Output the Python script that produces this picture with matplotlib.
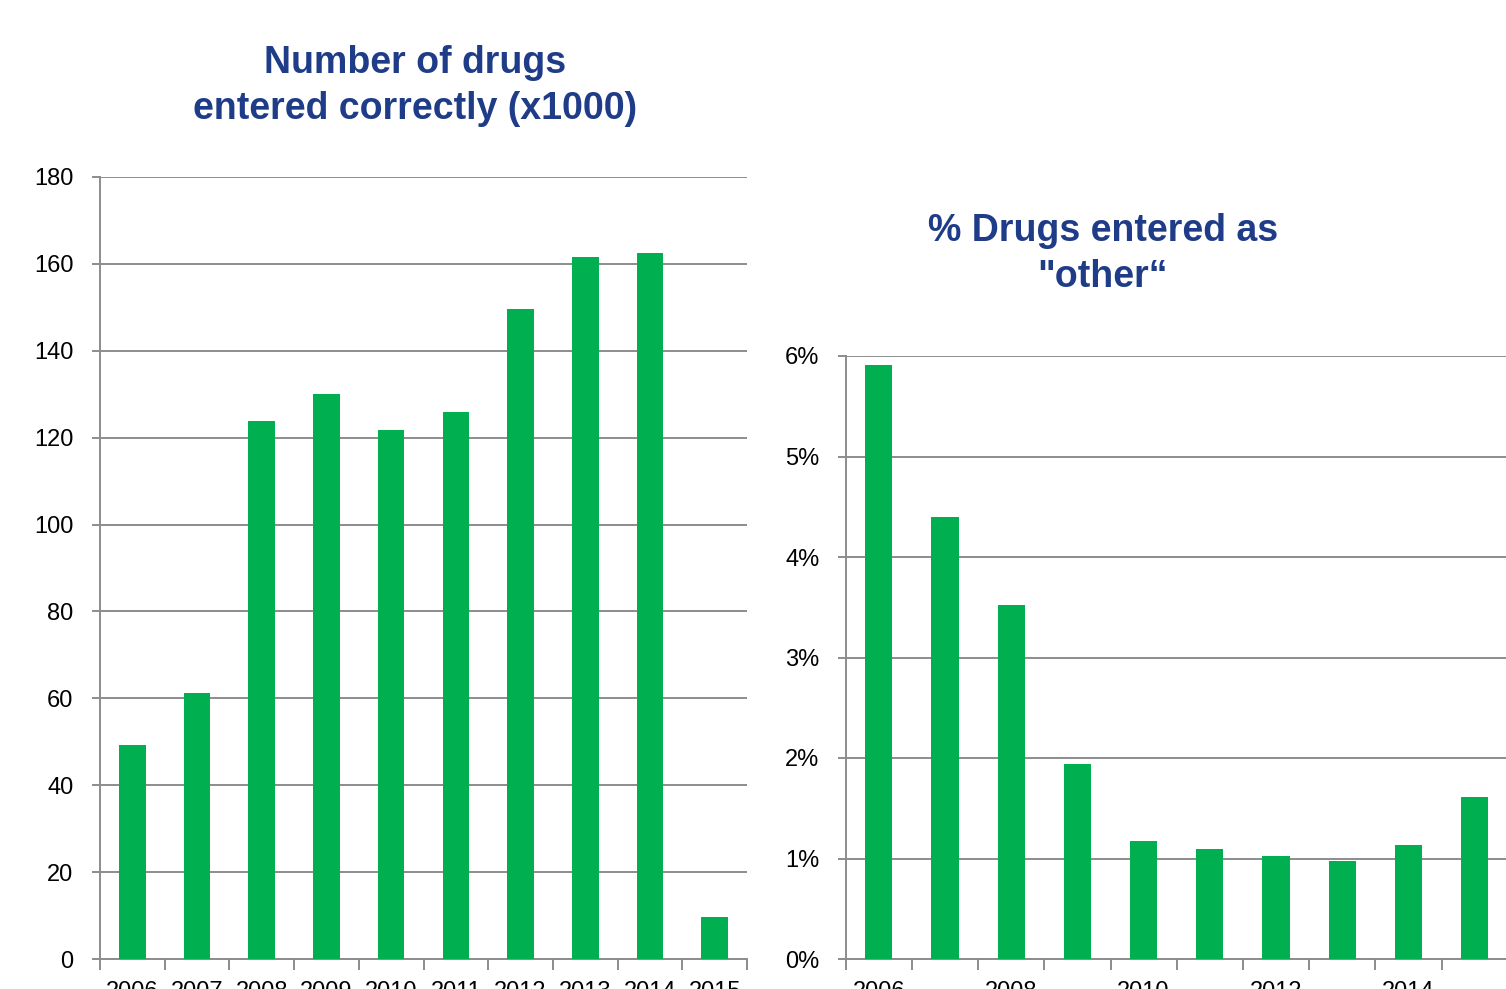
import numpy as np
import matplotlib
matplotlib.use('Agg')
import matplotlib.pyplot as plt
from matplotlib.ticker import FuncFormatter

plt.rcParams['font.family'] = ['Liberation Sans', 'DejaVu Sans']

years = [2006, 2007, 2008, 2009, 2010, 2011, 2012, 2013, 2014, 2015]
drugs_correct = [49.3, 61.2, 123.8, 130.1, 121.8, 125.9, 149.6, 161.6, 162.5, 9.7]
pct_other = [5.91, 4.40, 3.52, 1.94, 1.17, 1.09, 1.02, 0.975, 1.13, 1.61]

green = '#00B050'
title_col = '#1F3C88'
grid_col = '#8C8C8C'

W, H = 1506, 989
fig = plt.figure(figsize=(W / 100, H / 100), dpi=100)


def style_axes(ax, ymax, ystep):
    x = np.arange(len(years))
    ax.set_xlim(-0.5, len(years) - 0.5)
    ax.set_ylim(0, ymax)
    ax.set_yticks(np.arange(0, ymax + ystep / 2, ystep))
    ax.yaxis.grid(True, color=grid_col, lw=1.4)
    ax.set_axisbelow(True)
    for s in ['top', 'right']:
        ax.spines[s].set_visible(False)
    for s in ['left', 'bottom']:
        ax.spines[s].set_color(grid_col)
        ax.spines[s].set_linewidth(1.4)
    ax.set_xticks(x)
    ax.set_xticks(np.arange(len(years) + 1) - 0.5, minor=True)
    ax.tick_params(axis='x', which='major', length=0, pad=16, labelsize=17)
    ax.tick_params(axis='x', which='minor', length=8, width=1.4, color=grid_col)
    ax.tick_params(axis='y', length=6, width=1.4, color=grid_col, pad=13, labelsize=17)


# left chart
ax1 = fig.add_axes([100 / W, 30 / H, 647 / W, 782 / H])
ax1.bar(np.arange(len(years)), drugs_correct, width=0.41, color=green, zorder=3)
style_axes(ax1, 180, 20)
ax1.set_xticklabels([str(y) for y in years])
fig.text(415 / W, 1 - 86 / H, 'Number of drugs\nentered correctly (x1000)',
         ha='center', va='center', fontsize=27, fontweight='bold',
         color=title_col, linespacing=1.38)

# right chart
ax2 = fig.add_axes([845.7 / W, 30 / H, 662 / W, 603 / H])
ax2.bar(np.arange(len(years)), pct_other, width=0.41, color=green, zorder=3)
style_axes(ax2, 6, 1)
ax2.yaxis.set_major_formatter(FuncFormatter(lambda v, p: f'{v:.0f}%'))
ax2.set_xticklabels([str(y) if i % 2 == 0 else '' for i, y in enumerate(years)])
fig.text(1103 / W, 1 - 254 / H, '% Drugs entered as\n"other\u201c',
         ha='center', va='center', fontsize=27, fontweight='bold',
         color=title_col, linespacing=1.38)

fig.savefig('out.png', dpi=100)
